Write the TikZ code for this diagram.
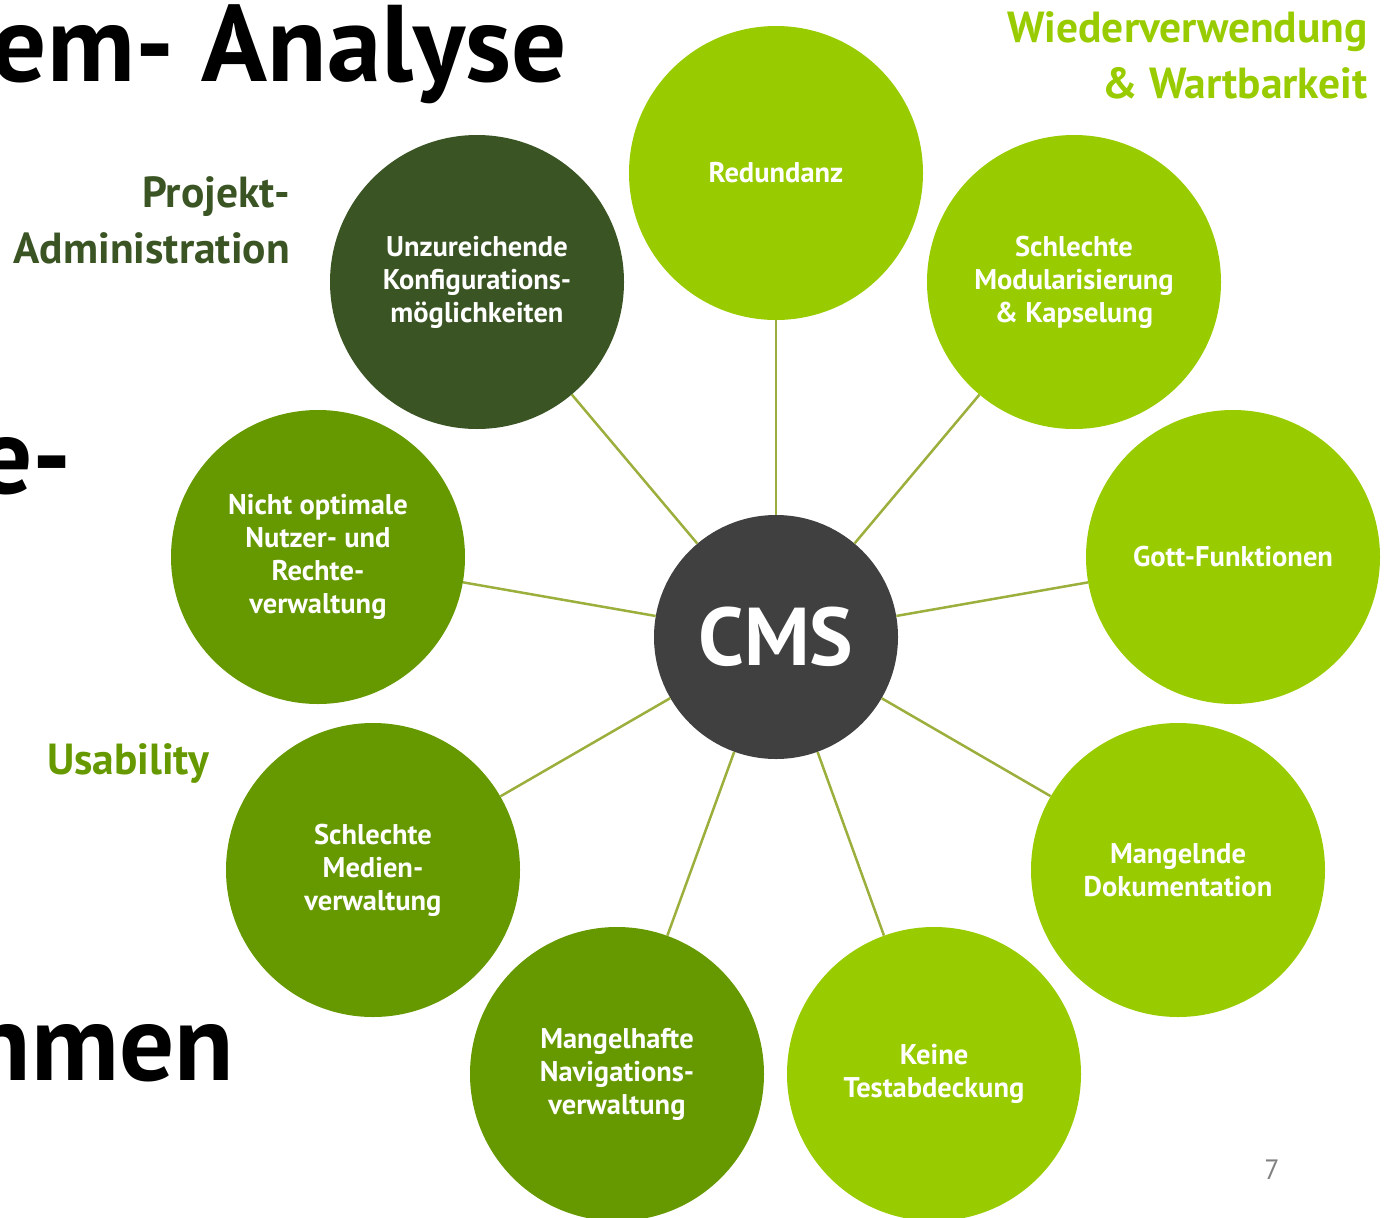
\documentclass[tikz,border=0pt]{standalone}
\usepackage{fontspec}
\setmainfont{PT Sans}
\definecolor{lightgreen}{HTML}{99CC00}
\definecolor{midgreen}{HTML}{669900}
\definecolor{darkgreen}{HTML}{3A5424}
\definecolor{cmsgray}{HTML}{404040}
\definecolor{spokecolor}{HTML}{9BAF3C}

\begin{document}
\begin{tikzpicture}[x=1pt,y=-1pt,
    topic_node/.style={circle,minimum size=294pt,inner sep=0pt,text=white,align=center,font=\fontsize{28.5}{33}\selectfont\bfseries},
    center_node/.style={circle,fill=cmsgray,minimum size=244pt,inner sep=0pt,text=white,font=\fontsize{82}{82}\selectfont\bfseries},
    group_label/.style={align=right,inner sep=0pt,font=\fontsize{43.5}{56}\selectfont\bfseries},
    title_part/.style={anchor=base east,inner sep=0pt,font=\fontsize{109}{109}\selectfont\bfseries},
    spoke/.style={draw=spokecolor,line width=2.5pt}]
    \useasboundingbox (0,0) rectangle (1384,1218);

    % cut-off slide title
    \node[title_part] (title1) at (567,81) {em- Analyse};
    \node[title_part] (title2) at (72,493) {e-};
    \node[title_part] (title3) at (234,1080) {nmen};

    % groups
    \node[group_label,text=lightgreen,anchor=base east] (reuse) at (1368,98) {Wiederverwendung\\\& Wartbarkeit};
    \node[group_label,text=darkgreen,anchor=base east] (admin) at (290,263) {Projekt-\\Administration};
    \node[group_label,text=midgreen,anchor=base west] (usability) at (47,774) {Usability};

    \node[center_node] (cms) at (776,637) {CMS};

    \node[topic_node,fill=lightgreen] (redundanz) at (776,173) {Redundanz};
    \node[topic_node,fill=lightgreen] (modul) at (1074,282) {Schlechte\\Modularisierung\\\& Kapselung};
    \node[topic_node,fill=lightgreen] (gott) at (1233,557) {Gott-Funktionen};
    \node[topic_node,fill=lightgreen] (doku) at (1178,870) {Mangelnde\\Dokumentation};
    \node[topic_node,fill=lightgreen] (test) at (934,1074) {Keine\\Testabdeckung};
    \node[topic_node,fill=midgreen] (navi) at (617,1074) {Mangelhafte\\Navigations-\\verwaltung};
    \node[topic_node,fill=midgreen] (medien) at (373,870) {Schlechte\\Medien-\\verwaltung};
    \node[topic_node,fill=midgreen] (nutzer) at (318,557) {Nicht optimale\\Nutzer- und\\Rechte-\\verwaltung};
    \node[topic_node,fill=darkgreen] (konfig) at (477,282) {Unzureichende\\Konfigurations-\\möglichkeiten};

    \foreach \t in {redundanz,modul,gott,doku,test,navi,medien,nutzer,konfig}
        \draw[spoke] (cms) -- (\t);

    \node[text=gray,font=\fontsize{28}{28}\selectfont] (pagenum) at (1272,1170) {7};
\end{tikzpicture}
\end{document}
